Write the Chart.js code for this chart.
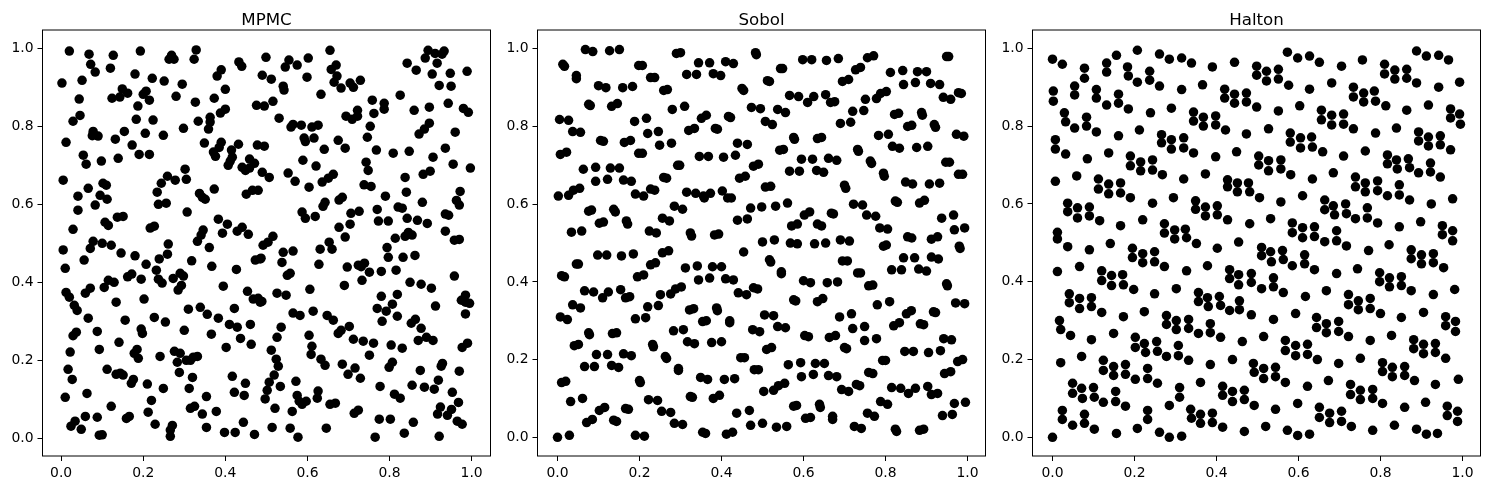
<!DOCTYPE html>
<html><head><meta charset="utf-8">
<script src="https://cdn.jsdelivr.net/npm/chart.js@4"></script>
<style>html,body{margin:0;padding:0;background:#fff;overflow:hidden}canvas{position:absolute;top:0}</style>
</head><body>
<canvas id="c0"></canvas><canvas id="c1"></canvas><canvas id="c2"></canvas>
<script>
const titles = ["MPMC","Sobol","Halton"];
const tickValues = [0,0.2,0.4,0.6,0.8,1.0];
const mpmc = [[.020,.993],[.068,.985],[.127,.982],[.193,.993],[.269,.982],[.263,.972],[.275,.972],[.329,.996],[.324,.972],[.072,.959],[.083,.939],[.120,.949],[.180,.934],[.222,.923],[.251,.916],[.295,.908],[.002,.911],[.051,.918],[.149,.896],[.162,.885],[.143,.875],[.124,.872],[.207,.890],[.200,.882],[.215,.867],[.187,.852],[.280,.877],[.327,.862],[.373,.872],[.400,.895],[.390,.945],[.380,.929],[.433,.965],[.440,.954],[.044,.870],[.046,.828],[.029,.813],[.183,.818],[.224,.816],[.334,.813],[.363,.823],[.363,.811],[.359,.793],[.388,.834],[.400,.844],[.476,.854],[.078,.787],[.076,.776],[.090,.775],[.154,.787],[.132,.767],[.205,.782],[.249,.777],[.298,.795],[.012,.759],[.173,.752],[.190,.728],[.215,.728],[.054,.726],[.061,.703],[.098,.711],[.139,.718],[.349,.757],[.390,.759],[.385,.746],[.371,.734],[.376,.723],[.432,.754],[.415,.739],[.417,.721],[.412,.711],[.407,.700],[.478,.752],[.459,.716],[.471,.705],[.441,.695],[.449,.687],[.459,.693],[.302,.690],[.259,.672],[.244,.654],[.278,.662],[.305,.664],[.005,.662],[.102,.654],[.110,.649],[.066,.641],[.041,.621],[.095,.623],[.112,.613],[.083,.598],[.041,.585],[.234,.631],[.237,.600],[.256,.603],[.337,.628],[.344,.618],[.351,.613],[.373,.639],[.451,.626],[.466,.636],[.480,.636],[.307,.580],[.137,.567],[.151,.569],[.107,.554],[.115,.546],[.029,.536],[.217,.539],[.227,.544],[.383,.562],[.405,.549],[.393,.526],[.441,.541],[.429,.531],[.456,.523],[.346,.534],[.341,.521],[.332,.505],[.261,.498],[.078,.505],[.100,.500],[.122,.495],
[.071,.487],[.005,.483],[.146,.475],[.180,.468],[.259,.472],[.239,.460],[.361,.489],[.318,.455],[.056,.457],[.207,.446],[.010,.436],[.367,.441],[.427,.433],[.232,.431],[.473,.457],[.485,.460],[.172,.421],[.162,.414],[.195,.408],[.237,.408],[.246,.398],[.273,.410],[.290,.423],[.298,.416],[.293,.392],[.285,.380],[.395,.390],[.129,.400],[.115,.405],[.105,.387],[.071,.385],[.059,.372],[.012,.374],[.020,.362],[.032,.341],[.039,.328],[.202,.357],[.134,.349],[.454,.377],[.468,.357],[.480,.359],[.485,.349],[.422,.333],[.310,.331],[.339,.336],[.356,.318],[.383,.308],[.066,.308],[.156,.303],[.227,.310],[.254,.298],[.037,.272],[.029,.263],[.088,.274],[.195,.280],[.198,.269],[.300,.277],[.410,.292],[.429,.285],[.461,.292],[.366,.267],[.437,.256],[.463,.241],[.402,.233],[.141,.246],[.093,.228],[.022,.221],[.185,.228],[.178,.218],[.188,.205],[.241,.210],[.276,.223],[.290,.218],[.283,.195],[.305,.200],[.315,.200],[.322,.208],[.332,.210],[.017,.177],[.027,.151],[.112,.177],[.134,.164],[.144,.167],[.151,.162],[.176,.151],[.171,.141],[.210,.139],[.249,.128],[.288,.169],[.320,.156],[.312,.128],[.417,.159],[.449,.141],[.422,.118],[.446,.110],[.063,.115],[.010,.105],[.354,.107],[.220,.097],[.122,.082],[.315,.077],[.325,.082],[.212,.067],[.344,.062],[.378,.069],[.059,.056],[.088,.054],[.166,.056],[.159,.051],[.034,.044],[.024,.031],[.049,.023],[.093,.008],[.100,.009],[.229,.036],[.271,.033],[.266,.021],[.266,.005],[.354,.028],[.398,.015],[.424,.015],[.444,.041],[.471,.010],
[.499,.977],[.655,.995],[.555,.970],[.546,.952],[.575,.957],[.602,.975],[.490,.931],[.512,.921],[.599,.926],[.670,.957],[.658,.946],[.672,.929],[.665,.913],[.682,.898],[.541,.903],[.543,.893],[.633,.882],[.704,.911],[.712,.900],[.729,.918],[.516,.864],[.495,.852],[.531,.821],[.758,.867],[.787,.859],[.787,.844],[.826,.880],[.762,.833],[.722,.841],[.694,.826],[.709,.818],[.722,.826],[.753,.800],[.746,.772],[.565,.805],[.560,.798],[.585,.803],[.611,.798],[.626,.803],[.592,.770],[.595,.761],[.616,.770],[.675,.764],[.641,.741],[.692,.744],[.495,.749],[.768,.739],[.809,.731],[.848,.736],[.860,.841],[.897,.849],[.943,.859],[.980,.846],[.992,.836],[.897,.808],[.885,.793],[.872,.780],[.960,.785],[.936,.744],[.906,.721],[.955,.703],[.997,.693],[.899,.685],[.882,.677],[.838,.669],[.589,.713],[.621,.698],[.553,.680],[.570,.659],[.604,.644],[.663,.677],[.651,.667],[.636,.657],[.743,.708],[.748,.687],[.738,.650],[.755,.646],[.490,.682],[.507,.669],[.790,.621],[.841,.631],[.880,.605],[.972,.633],[.963,.610],[.970,.598],[.685,.618],[.677,.611],[.643,.605],[.638,.595],[.587,.580],[.595,.564],[.619,.569],[.706,.577],[.726,.582],[.770,.587],[.821,.593],[.831,.590],[.773,.557],[.797,.557],[.843,.564],[.868,.559],[.892,.551],[.936,.575],[.944,.572],[.704,.549],[.677,.541],[.692,.516],[.936,.531],[.958,.508],[.970,.510],[.846,.528],[.855,.521],[.838,.518],[.814,.513],[.516,.518],[.504,.503],[.492,.495],[.653,.503],
[.894,.995],[.911,.987],[.933,.993],[.928,.985],[.887,.975],[.916,.962],[.843,.962],[.865,.944],[.904,.934],[.948,.936],[.989,.941],[.921,.905],[.950,.903],
[.794,.489],[.631,.485],[.660,.485],[.565,.480],[.541,.477],[.538,.451],[.628,.446],[.487,.462],[.797,.464],[.833,.464],[.862,.469],[.697,.439],[.724,.444],[.739,.449],[.731,.440],[.751,.426],[.780,.428],[.816,.431],[.558,.423],[.551,.418],[.958,.416],[.733,.405],[.850,.400],[.877,.395],[.902,.385],[.690,.392],[.606,.382],[.526,.372],[.548,.367],[.780,.364],[.819,.369],[.985,.367],[.975,.354],[.985,.349],[.995,.346],[.985,.319],[.912,.339],[.807,.344],[.770,.333],[.792,.326],[.819,.313],[.782,.300],[.489,.351],[.565,.321],[.582,.315],[.614,.326],[.648,.315],[.663,.303],[.536,.285],[.526,.259],[.604,.264],[.702,.287],[.682,.277],[.675,.269],[.712,.254],[.736,.249],[.761,.244],[.804,.239],[.831,.231],[.751,.213],[.611,.236],[.609,.215],[.512,.226],[.524,.203],[.529,.185],[.633,.203],[.643,.187],[.685,.190],[.716,.180],[.699,.164],[.729,.154],[.853,.295],[.863,.305],[.877,.282],[.890,.259],[.870,.251],[.906,.251],[.990,.244],[.977,.233],[.807,.195],[.799,.182],[.929,.192],[.926,.185],[.875,.174],[.970,.172],[.919,.149],[.855,.136],[.885,.131],[.909,.126],[.953,.118],[.968,.092],[.519,.162],[.507,.144],[.502,.123],[.497,.101],[.534,.133],[.572,.146],[.575,.110],[.580,.095],[.587,.087],[.597,.095],[.626,.121],[.624,.103],[.655,.087],[.668,.090],[.521,.077],[.563,.069],[.777,.133],[.812,.113],[.826,.103],[.724,.072],[.714,.064],[.775,.049],[.802,.049],[.858,.041],[.924,.080],[.917,.062],[.951,.074],[.941,.059],[.965,.044],[.977,.036],[.514,.028],[.558,.026],[.646,.026],[.577,.003],[.765,.003],[.836,.013],[.921,.005]];
const sobol = [[.068,.998],[.086,.993],[.127,.995],[.151,.998],[.013,.960],[.017,.955],[.046,.931],[.046,.923],[.100,.905],[.118,.900],[.159,.900],[.183,.903],[.198,.957],[.207,.957],[.290,.988],[.300,.990],[.344,.964],[.371,.964],[.315,.934],[.339,.934],[.380,.936],[.398,.931],[.410,.967],[.429,.962],[.227,.926],[.237,.926],[.259,.893],[.268,.895],[.450,.898],[.454,.893],[.076,.857],[.080,.854],[.132,.852],[.146,.859],[.280,.844],[.310,.852],[.005,.818],[.027,.816],[.037,.787],[.056,.785],[.188,.813],[.217,.821],[.220,.782],[.246,.787],[.351,.821],[.363,.829],[.417,.826],[.422,.823],[.320,.790],[.334,.795],[.385,.795],[.390,.793],[.105,.764],[.112,.762],[.163,.759],[.178,.764],[.249,.752],[.278,.757],[.198,.731],[.207,.731],[.007,.728],[.022,.734],[.439,.757],[.463,.754],[.346,.723],[.368,.723],[.405,.721],[.434,.726],[.293,.700],[.298,.700],[.063,.690],[.093,.695],[.129,.693],[.151,.693],[.093,.659],[.122,.664],[.161,.662],[.180,.659],[.259,.669],[.266,.667],[.444,.667],[.458,.672],[.002,.621],[.027,.623],[.039,.636],[.054,.641],[.190,.626],[.210,.621],[.227,.639],[.237,.636],[.315,.631],[.337,.628],[.356,.621],[.358,.616],[.373,.628],[.402,.634],[.415,.616],[.424,.616],[.285,.595],[.305,.587],[.076,.582],[.083,.585],[.137,.587],[.141,.580],[.102,.551],[.112,.554],[.168,.557],[.171,.549],[.034,.528],[.059,.531],[.224,.531],[.241,.526],[.256,.564],[.273,.557],[.324,.526],[.327,.518],[.383,.521],[.393,.523],[.439,.559],[.463,.562],
[.483,.990],[.485,.985],[.598,.972],[.620,.972],[.656,.970],[.685,.975],[.756,.977],[.771,.982],[.949,.980],[.954,.980],[.544,.949],[.549,.949],[.512,.918],[.517,.916],[.727,.946],[.739,.952],[.695,.916],[.710,.921],[.812,.939],[.842,.944],[.878,.941],[.900,.941],[.844,.908],[.873,.913],[.910,.911],[.932,.908],[.566,.880],[.588,.877],[.610,.862],[.625,.877],[.654,.882],[.666,.862],[.676,.864],[.751,.870],[.778,.872],[.788,.885],[.802,.890],[.978,.887],[.985,.885],[.941,.875],[.959,.870],[.473,.849],[.495,.846],[.537,.844],[.556,.836],[.720,.839],[.747,.841],[.507,.813],[.524,.805],[.690,.808],[.715,.811],[.822,.831],[.832,.834],[.888,.836],[.890,.829],[.854,.800],[.864,.803],[.919,.805],[.922,.798],[.783,.777],[.807,.780],[.576,.772],[.578,.767],[.634,.769],[.644,.772],[.973,.780],[.991,.775],[.817,.749],[.834,.744],[.876,.746],[.903,.749],[.542,.739],[.551,.741],[.732,.741],[.734,.736],[.595,.716],[.622,.716],[.661,.718],[.681,.713],[.763,.711],[.766,.705],[.947,.708],[.956,.708],[.478,.698],[.490,.703],[.566,.685],[.590,.685],[.632,.687],[.649,.682],[.795,.680],[.797,.672],[.978,.677],[.988,.677],[.507,.644],[.520,.646],[.700,.649],[.703,.641],[.849,.657],[.866,.652],[.907,.652],[.932,.654],[.824,.608],[.829,.605],[.883,.603],[.895,.610],[.471,.590],[.498,.593],[.532,.595],[.561,.603],[.722,.600],[.744,.598],[.602,.572],[.615,.580],[.668,.577],[.673,.575],[.571,.544],[.585,.549],[.634,.549],[.644,.544],[.754,.572],[.776,.569],[.786,.539],[.805,.536],[.937,.564],[.966,.572],[.968,.534],[.993,.539],[.854,.516],[.864,.513],[.912,.510],[.927,.516],[.500,.503],[.529,.508],[.568,.500],[.585,.498],[.627,.498],[.654,.500],[.690,.508],[.712,.505],[.795,.492],[.802,.495],[.980,.492],[.982,.486],
[.046,.446],[.051,.446],[.098,.469],[.120,.469],[.156,.467],[.185,.472],[.256,.475],[.271,.480],[.454,.477],[.227,.444],[.239,.449],[.312,.436],[.341,.441],[.378,.439],[.400,.439],[.344,.405],[.371,.410],[.410,.408],[.429,.405],[.195,.413],[.210,.418],[.010,.416],[.017,.413],[.066,.377],[.088,.374],[.110,.359],[.124,.374],[.154,.380],[.166,.359],[.176,.362],[.251,.367],[.276,.369],[.288,.382],[.302,.387],[.441,.372],[.461,.367],[.037,.341],[.056,.333],[.220,.336],[.246,.339],[.007,.310],[.024,.303],[.190,.305],[.215,.308],[.322,.328],[.332,.331],[.388,.333],[.390,.326],[.354,.298],[.363,.300],[.420,.300],[.420,.295],[.283,.274],[.307,.277],[.076,.269],[.078,.264],[.134,.267],[.144,.269],[.317,.246],[.334,.241],[.376,.244],[.400,.246],[.041,.236],[.051,.239],[.232,.239],[.234,.233],[.095,.213],[.122,.213],[.161,.215],[.180,.210],[.263,.208],[.266,.203],[.447,.205],[.456,.205],[.066,.182],[.090,.182],[.132,.185],[.149,.180],[.295,.177],[.295,.172],[.200,.146],[.202,.141],[.010,.141],[.020,.144],[.349,.154],[.366,.149],[.407,.149],[.432,.151],[.324,.105],[.329,.103],[.380,.100],[.395,.108],[.061,.100],[.032,.092],[.222,.097],[.244,.095],[.102,.069],[.115,.077],[.166,.074],[.173,.072],[.254,.067],[.276,.064],[.437,.062],[.468,.069],[.071,.038],[.085,.046],[.137,.044],[.144,.041],[.285,.036],[.305,.033],[.000,.000],[.029,.005],[.190,.005],[.212,.003],[.354,.013],[.361,.010],[.412,.008],[.427,.013],
[.517,.457],[.520,.451],[.546,.426],[.546,.421],[.600,.403],[.617,.398],[.658,.398],[.683,.400],[.695,.454],[.707,.454],[.732,.423],[.739,.423],[.759,.390],[.769,.392],[.815,.431],[.839,.431],[.844,.462],[.871,.462],[.881,.433],[.900,.428],[.912,.464],[.929,.459],[.949,.395],[.951,.390],[.478,.385],[.488,.382],[.576,.354],[.581,.351],[.634,.349],[.647,.357],[.780,.341],[.810,.349],[.971,.346],[.993,.344],[.505,.315],[.527,.313],[.688,.310],[.717,.318],[.851,.318],[.863,.326],[.917,.323],[.922,.321],[.820,.287],[.834,.295],[.885,.292],[.893,.290],[.537,.285],[.556,.282],[.720,.280],[.749,.285],[.476,.277],[.493,.272],[.603,.262],[.612,.259],[.663,.257],[.678,.262],[.749,.249],[.778,.254],[.942,.254],[.961,.251],[.700,.231],[.705,.228],[.510,.226],[.522,.231],[.847,.221],[.868,.221],[.905,.218],[.934,.223],[.793,.198],[.800,.198],[.976,.195],[.988,.200],[.563,.187],[.593,.192],[.629,.190],[.651,.190],[.480,.174],[.490,.174],[.595,.156],[.624,.162],[.661,.159],[.681,.156],[.759,.167],[.769,.164],[.944,.164],[.959,.169],[.554,.139],[.539,.133],[.527,.121],[.503,.118],[.693,.123],[.710,.118],[.729,.136],[.737,.133],[.815,.128],[.837,.126],[.856,.113],[.873,.126],[.903,.131],[.912,.110],[.927,.113],[.788,.092],[.805,.085],[.968,.087],[.995,.090],[.576,.080],[.583,.082],[.639,.085],[.641,.077],[.756,.062],[.773,.054],[.939,.056],[.963,.059],[.605,.049],[.617,.051],[.671,.054],[.671,.046],[.471,.031],[.500,.036],[.534,.026],[.559,.028],[.724,.028],[.741,.023],[.824,.021],[.827,.015],[.883,.018],[.893,.021]];
const halton = [[.000,.972],[.024,.959],[.078,.949],[.078,.923],[.132,.962],[.132,.939],[.156,.982],[.183,.952],[.185,.929],[.207,.995],[.207,.913],[.237,.941],[.237,.918],[.261,.985],[.261,.903],[.285,.972],[.315,.975],[.339,.962],[.390,.952],[.444,.964],[.054,.903],[.054,.880],[.002,.890],[.002,.864],[.107,.894],[.107,.872],[.161,.882],[.161,.859],[.132,.854],[.185,.844],[.315,.894],[.366,.906],[.290,.846],[.239,.834],[.420,.895],[.420,.872],[.444,.882],[.444,.859],[.029,.834],[.032,.811],[.083,.823],[.083,.800],[.054,.795],[.107,.785],[.161,.775],[.212,.790],[.344,.836],[.344,.813],[.368,.823],[.368,.800],[.398,.826],[.398,.803],[.422,.790],[.007,.765],[.007,.741],[.032,.728],[.085,.716],[.137,.731],[.266,.778],[.266,.757],[.290,.765],[.290,.741],[.320,.770],[.320,.744],[.344,.731],[.398,.721],[.449,.734],[.190,.723],[.190,.698],[.215,.708],[.215,.685],[.244,.713],[.244,.687],[.268,.675],[.320,.664],[.373,.677],[.007,.658],[.059,.672],[.112,.664],[.112,.638],[.137,.651],[.137,.626],[.166,.654],[.166,.628],[.190,.616],[.244,.602],[.295,.616],[.427,.662],[.427,.644],[.451,.654],[.451,.631],[.037,.602],[.037,.580],[.061,.590],[.061,.564],[.090,.592],[.090,.569],[.115,.557],[.166,.544],[.220,.559],[.349,.608],[.349,.586],[.373,.592],[.373,.569],[.402,.595],[.402,.572],[.427,.559],[.012,.527],[.012,.510],[.141,.498],[.273,.549],[.273,.525],[.298,.533],[.298,.510],[.324,.535],[.327,.513],[.351,.498],[.454,.502],
[.037,.490],[.090,.482],[.195,.486],[.195,.462],[.220,.472],[.220,.449],[.249,.477],[.249,.451],[.273,.439],[.402,.486],[.012,.426],[.066,.439],[.120,.428],[.120,.403],[.144,.416],[.144,.390],[.171,.418],[.173,.392],[.198,.380],[.327,.428],[.378,.441],[.432,.431],[.432,.408],[.454,.418],[.454,.392],[.302,.382],[.249,.369],[.041,.369],[.041,.346],[.066,.357],[.066,.331],[.095,.359],[.095,.336],[.120,.321],[.173,.310],[.224,.323],[.356,.372],[.356,.349],[.378,.359],[.380,.336],[.407,.362],[.410,.339],[.432,.326],[.456,.351],[.456,.328],[.017,.300],[.020,.277],[.044,.262],[.095,.251],[.149,.267],[.278,.313],[.278,.290],[.302,.300],[.302,.277],[.332,.303],[.332,.280],[.356,.267],[.385,.292],[.385,.269],[.410,.257],[.202,.257],[.202,.231],[.224,.241],[.227,.218],[.254,.246],[.256,.221],[.278,.208],[.307,.236],[.307,.210],[.332,.198],[.071,.208],[.020,.192],[.385,.187],[.439,.200],[.124,.198],[.124,.172],[.149,.182],[.149,.159],[.178,.187],[.178,.162],[.202,.149],[.232,.177],[.232,.151],[.256,.139],[.361,.141],[.049,.139],[.049,.113],[.071,.126],[.073,.100],[.100,.128],[.102,.103],[.124,.090],[.154,.118],[.154,.092],[.178,.080],[.310,.128],[.310,.103],[.285,.082],[.415,.131],[.415,.108],[.439,.118],[.439,.092],[.024,.069],[.024,.046],[.078,.059],[.078,.036],[.049,.031],[.102,.021],[.232,.069],[.232,.046],[.207,.023],[.156,.010],[.261,.013],[.285,.000],[.315,.003],[.000,.000],[.337,.072],[.339,.049],[.361,.059],[.361,.036],[.390,.062],[.390,.038],[.415,.026],
[.573,.990],[.598,.975],[.627,.980],[.651,.964],[.705,.954],[.756,.970],[.888,.993],[.912,.980],[.942,.982],[.966,.970],[.498,.954],[.498,.931],[.522,.941],[.522,.916],[.551,.946],[.551,.921],[.576,.905],[.627,.895],[.681,.911],[.810,.959],[.810,.934],[.835,.944],[.835,.921],[.864,.946],[.864,.923],[.888,.911],[.942,.900],[.993,.913],[.734,.900],[.734,.875],[.759,.885],[.759,.862],[.785,.890],[.788,.864],[.813,.852],[.473,.885],[.473,.862],[.498,.849],[.551,.839],[.603,.852],[.656,.841],[.656,.816],[.681,.828],[.681,.803],[.710,.831],[.710,.805],[.734,.793],[.788,.782],[.839,.795],[.864,.841],[.917,.854],[.971,.844],[.971,.821],[.993,.831],[.995,.805],[.473,.780],[.527,.793],[.580,.782],[.580,.759],[.605,.770],[.605,.744],[.632,.772],[.634,.746],[.659,.734],[.710,.723],[.763,.736],[.893,.785],[.893,.762],[.917,.772],[.917,.749],[.946,.775],[.946,.752],[.971,.739],[.503,.723],[.503,.700],[.527,.711],[.527,.685],[.557,.713],[.557,.690],[.581,.675],[.634,.664],[.685,.680],[.739,.669],[.739,.644],[.763,.654],[.763,.631],[.793,.659],[.793,.634],[.817,.621],[.817,.726],[.817,.703],[.839,.713],[.841,.690],[.868,.716],[.871,.693],[.893,.680],[.922,.705],[.922,.682],[.946,.669],[.846,.649],[.846,.623],[.871,.610],[.478,.654],[.481,.631],[.505,.616],[.557,.605],[.610,.621],[.664,.610],[.664,.585],[.685,.595],[.688,.572],[.715,.600],[.717,.575],[.739,.562],[.768,.590],[.768,.564],[.793,.551],[.924,.600],[.976,.613],[.481,.549],[.532,.562],[.585,.551],[.585,.526],[.610,.539],[.610,.513],[.639,.541],[.639,.516],[.664,.503],[.693,.531],[.693,.505],[.717,.492],[.846,.541],[.898,.554],[.951,.544],[.951,.521],[.976,.531],[.976,.505],[.821,.495],
[.510,.488],[.510,.467],[.532,.477],[.534,.451],[.561,.480],[.563,.457],[.585,.441],[.615,.469],[.615,.446],[.639,.431],[.693,.421],[.744,.433],[.771,.480],[.798,.423],[.798,.400],[.822,.410],[.822,.387],[.851,.413],[.851,.390],[.875,.377],[.875,.459],[.875,.482],[.900,.469],[.900,.446],[.929,.472],[.929,.449],[.954,.436],[.485,.421],[.485,.398],[.510,.382],[.539,.410],[.539,.387],[.563,.372],[.617,.362],[.668,.377],[.722,.367],[.722,.341],[.746,.351],[.746,.328],[.775,.357],[.775,.331],[.800,.318],[.851,.308],[.905,.321],[.929,.367],[.981,.380],[.959,.310],[.959,.287],[.983,.298],[.983,.272],[.485,.315],[.539,.303],[.593,.318],[.644,.308],[.644,.282],[.668,.292],[.668,.269],[.698,.298],[.698,.272],[.722,.259],[.775,.249],[.827,.262],[.463,.246],[.515,.259],[.568,.249],[.568,.223],[.593,.236],[.593,.210],[.622,.239],[.622,.213],[.646,.200],[.698,.190],[.751,.203],[.881,.251],[.881,.228],[.905,.239],[.905,.215],[.934,.241],[.934,.218],[.959,.203],[.805,.192],[.805,.169],[.829,.180],[.829,.156],[.859,.182],[.859,.159],[.883,.146],[.934,.136],[.990,.149],[.490,.190],[.492,.167],[.515,.177],[.515,.151],[.544,.180],[.544,.156],[.568,.141],[.622,.131],[.673,.146],[.727,.136],[.727,.110],[.751,.121],[.751,.097],[.781,.123],[.781,.100],[.805,.087],[.468,.121],[.468,.097],[.492,.082],[.544,.072],[.598,.087],[.859,.077],[.910,.090],[.651,.077],[.651,.051],[.676,.062],[.676,.038],[.705,.067],[.705,.041],[.729,.028],[.963,.080],[.963,.056],[.988,.067],[.988,.041],[.468,.015],[.520,.028],[.573,.018],[.598,.005],[.627,.008],[.781,.018],[.834,.031],[.888,.021],[.912,.008],[.939,.010]];
const seriesList = [mpmc, sobol, halton];

// Frame geometry per panel: canvas left/width, plot left/right, axis limits
const panels = [
 {left:0,   width:497, plotL:42.5,  plotR:490.5,  xr:[-.0454,1.046],  yr:[-.0454,1.047]},
 {left:497, width:496, plotL:537.5, plotR:985.5,  xr:[-.0488,1.0439], yr:[-.0481,1.0484]},
 {left:993, width:497, plotL:1032.5,plotR:1480.5, xr:[-.0488,1.044],  yr:[-.048,1.047]}
];
const frame = {id:'frame', afterDatasetsDraw(c){const a=c.chartArea,g=c.ctx;g.save();g.strokeStyle='#000';g.lineWidth=1;g.strokeRect(a.left,a.top,a.right-a.left,a.bottom-a.top);g.restore();}};
const fmt = v => Number(v).toFixed(1);
const tickFont = {family:'"DejaVu Sans"', size:13.9};
function setTicks(ax){ax.ticks = tickValues.map(v=>({value:v}));}

panels.forEach((p,i)=>{
  const cv = document.getElementById('c'+i);
  cv.width = p.width; cv.height = 490;
  cv.style.left = p.left+'px'; cv.style.width = p.width+'px'; cv.style.height='490px';
  new Chart(cv,{
    type:'scatter',
    data:{datasets:[{data:seriesList[i].map(d=>({x:d[0],y:d[1]})),pointRadius:4.75,pointHoverRadius:4.75,pointBackgroundColor:'#000',pointBorderWidth:0,showLine:false}]},
    options:{
      responsive:false,animation:false,devicePixelRatio:1,
      layout:{padding:{left:0,top:0,bottom:0,right:p.left+p.width-p.plotR}},
      plugins:{legend:{display:false},tooltip:{enabled:false},
        title:{display:true,fullSize:false,text:titles[i],color:'#000',font:{family:'"DejaVu Sans"',size:16.67,weight:'normal'},padding:{top:11,bottom:-1}}},
      scales:{
        x:{type:'linear',min:p.xr[0],max:p.xr[1],afterBuildTicks:setTicks,
           afterFit(s){s.height=34;},
           grid:{drawOnChartArea:false,drawTicks:true,tickLength:5,tickColor:'#000',tickWidth:1},border:{display:false},
           ticks:{color:'#000',font:tickFont,padding:4,maxRotation:0,autoSkip:false,callback:fmt}},
        y:{type:'linear',min:p.yr[0],max:p.yr[1],afterBuildTicks:setTicks,
           afterFit(s){s.width=p.plotL-p.left;},
           grid:{drawOnChartArea:false,drawTicks:true,tickLength:5,tickColor:'#000',tickWidth:1},border:{display:false},
           ticks:{color:'#000',font:tickFont,padding:4,autoSkip:false,callback:fmt}}
      }
    },
    plugins:[frame]
  });
});
</script>
</body></html>
